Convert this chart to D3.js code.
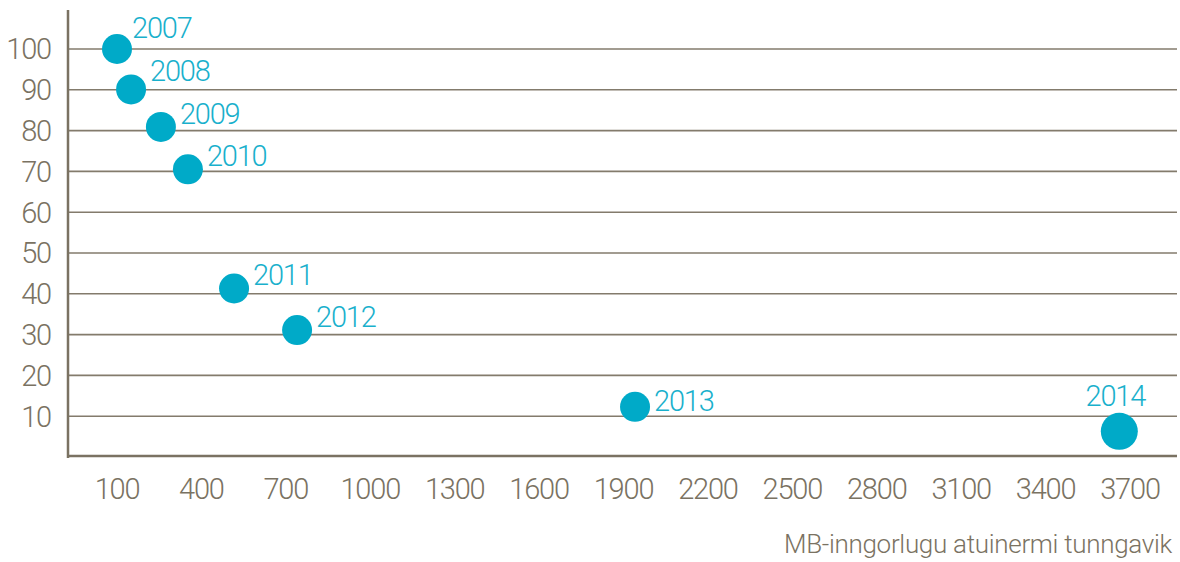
<!DOCTYPE html>
<html>
<head>
<meta charset="utf-8">
<script src="https://cdn.jsdelivr.net/npm/d3@7"></script>
<style>
  body { margin: 0; background: #fff; }
  svg text { font-family: Roboto, "Liberation Sans Narrow", sans-serif; font-weight: 300; }
</style>
</head>
<body>
<div id="scatter_chart"></div>
<script>
var svgSelector = "#scatter_chart";
var default_width = 1180;
var default_height = 562;

// data
var years = ["2007", "2008", "2009", "2010", "2011", "2012", "2013", "2014"];
var mbValues = [100, 150, 256, 352, 516, 740, 1941, 3662];
var indexValues = [100, 90.1, 80.9, 70.5, 41.3, 31.1, 12.3, 6.3];
var xTicks = [100, 400, 700, 1000, 1300, 1600, 1900, 2200, 2500, 2800, 3100, 3400, 3700];
var yTicks = [10, 20, 30, 40, 50, 60, 70, 80, 90, 100];
var xTitle = "MB-inngorlugu atuinermi tunngavik";

////////////////////////////////////////////////////////////////////////////////////////////////

var axisColor = "#7a7262";
var gridColor = "#837b6c";
var dotColor = "#00aac8";
var labelColor = "#19b0cc";

function drawScatter(htmlSelector, w, h) {
    var svg = d3.select(htmlSelector).append("svg")
        .attr("width", w)
        .attr("height", h);

    var left = 68, right = 1177, top = 10;

    var x = d3.scaleLinear().domain([100, 3700]).range([117, 1130]);
    var y = d3.scaleLinear().domain([0, 100]).range([457, 49]);

    // gridlines
    svg.append("g")
        .selectAll("line")
        .data(yTicks)
        .enter().append("line")
            .attr("x1", left)
            .attr("x2", right)
            .attr("y1", function(d) { return y(d); })
            .attr("y2", function(d) { return y(d); })
            .attr("stroke", gridColor)
            .attr("stroke-width", 1.6);

    // axes lines
    svg.append("line")
        .attr("x1", left).attr("x2", right)
        .attr("y1", y(0) - 1).attr("y2", y(0) - 1)
        .attr("stroke", axisColor)
        .attr("stroke-width", 2.5);
    svg.append("line")
        .attr("x1", left).attr("x2", left)
        .attr("y1", top).attr("y2", y(0) + 1)
        .attr("stroke", axisColor)
        .attr("stroke-width", 2.5);

    // y tick labels
    svg.append("g")
        .selectAll("text")
        .data(yTicks)
        .enter().append("text")
            .attr("x", 51)
            .attr("y", function(d) { return y(d); })
            .attr("dy", "0.36em")
            .attr("text-anchor", "end")
            .attr("font-size", 29)
            .attr("letter-spacing", -1.2)
            .attr("fill", axisColor)
            .text(function(d) { return d; });

    // x tick labels
    svg.append("g")
        .selectAll("text")
        .data(xTicks)
        .enter().append("text")
            .attr("x", function(d) { return x(d); })
            .attr("y", 499)
            .attr("text-anchor", "middle")
            .attr("font-size", 29)
            .attr("letter-spacing", -1.2)
            .attr("fill", axisColor)
            .text(function(d) { return d; });

    svg.append("text")
        .attr("x", 1172)
        .attr("y", 553)
        .attr("text-anchor", "end")
        .attr("font-size", 26)
        .attr("letter-spacing", -0.3)
        .attr("fill", axisColor)
        .text(xTitle);

    var points = years.map(function(yr, i) {
        return { year: yr, mb: mbValues[i], idx: indexValues[i], last: i === years.length - 1 };
    });

    // label nudges (hand placed in the original)
    var nudge = { "2007": [15, -11], "2008": [19, -8], "2013": [19, 4] };

    var g = svg.append("g")
        .selectAll("g")
        .data(points)
        .enter().append("g")
            .attr("transform", function(p) {
                return "translate(" + x(p.mb) + "," + y(p.idx) + ")";
            });

    g.append("circle")
        .attr("r", function(p) { return p.last ? 18.5 : 15; })
        .attr("fill", dotColor);

    g.append("text")
        .attr("x", function(p) {
            if (p.last) return -4;
            return nudge[p.year] ? nudge[p.year][0] : 19;
        })
        .attr("y", function(p) {
            if (p.last) return -25;
            return nudge[p.year] ? nudge[p.year][1] : -3;
        })
        .attr("text-anchor", function(p) { return p.last ? "middle" : "start"; })
        .attr("font-size", 29)
        .attr("letter-spacing", -1.2)
        .attr("fill", labelColor)
        .text(function(p) { return p.year; });
}

drawScatter(svgSelector, default_width, default_height);
</script>
</body>
</html>
